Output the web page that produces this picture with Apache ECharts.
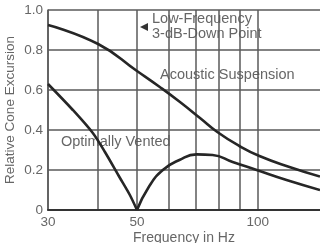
<!DOCTYPE html>
<html>
<head>
<meta charset="utf-8">
<script src="https://cdn.jsdelivr.net/npm/echarts@6/dist/echarts.min.js"></script>
<style>
  html, body { margin: 0; padding: 0; background: #fff; }
  #chart { width: 320px; height: 243px; }
</style>
</head>
<body>
<div id="chart"></div>
<script>
// frequencies in Hz
var suspensionFreq = [30, 40, 50, 57, 64, 71.8, 79.3, 90, 101, 120, 143];
var suspensionVal = [0.925, 0.83, 0.695, 0.615, 0.54, 0.46, 0.39, 0.32, 0.27, 0.215, 0.167];

// optimally vented, split at the null at 50 Hz
var ventedLowFreq = [30, 34.6, 38.8, 41.6, 45.2, 48, 50];
var ventedLowVal = [0.63, 0.5, 0.385, 0.29, 0.165, 0.075, 0];
var ventedHighFreq = [50, 53.5, 58, 63.8, 70.4, 77.2, 86.6, 99.4, 118, 143];
var ventedHighVal = [0, 0.115, 0.2, 0.25, 0.278, 0.275, 0.24, 0.2, 0.15, 0.1];

var gridFreqs = [30, 40, 50, 60, 70, 80, 90, 100];
var labelFreqs = [30, 50, 100];

function toPoints(freqs, vals) {
    var out = [];
    for (var i = 0; i < freqs.length; i++) {
        out.push([Math.log10(freqs[i]), vals[i]]);
    }
    return out;
}

var textColor = '#666';
var gridColor = '#5a5a5a';
var curveColor = '#262626';
var font = 'Liberation Sans, Arial, sans-serif';

var chart = echarts.init(document.getElementById('chart'), null, { renderer: 'canvas' });

chart.setOption({
    animation: false,
    grid: { left: 48, right: 0, top: 10, bottom: 33, outerBoundsMode: 'none', containLabel: false },
    xAxis: {
        type: 'value',
        min: Math.log10(30),
        max: Math.log10(143),
        name: 'Frequency in Hz',
        nameLocation: 'middle',
        nameMoveOverlap: false,
        nameGap: 21,
        nameTextStyle: { color: textColor, fontSize: 14, fontFamily: font },
        axisLine: { show: true, lineStyle: { color: '#333', width: 2 } },
        axisTick: { show: false, customValues: gridFreqs.map(Math.log10) },
        axisLabel: {
            customValues: labelFreqs.map(Math.log10),
            formatter: function (v) { return String(Math.round(Math.pow(10, v))); },
            color: textColor, fontSize: 13.5, fontFamily: font, margin: 5
        },
        splitLine: { show: true, lineStyle: { color: gridColor, width: 1.5 } }
    },
    yAxis: {
        type: 'value',
        min: 0,
        max: 1,
        interval: 0.2,
        name: 'Relative Cone Excursion',
        nameLocation: 'middle',
        nameMoveOverlap: false,
        nameGap: 31,
        nameTextStyle: { color: textColor, fontSize: 13.5, fontFamily: font },
        axisLine: { show: true, lineStyle: { color: gridColor, width: 1.5 } },
        axisTick: { show: false },
        axisLabel: {
            formatter: function (v) { return v === 0 ? '0' : v.toFixed(1); },
            color: textColor, fontSize: 13.5, fontFamily: font, margin: 5
        },
        splitLine: { show: true, lineStyle: { color: gridColor, width: 1.5 } }
    },
    series: [
        {
            type: 'line', name: 'Acoustic Suspension', smooth: true, symbol: 'none',
            lineStyle: { color: curveColor, width: 2.6 },
            data: toPoints(suspensionFreq, suspensionVal)
        },
        {
            type: 'line', name: 'Optimally Vented low', smooth: 0.3, symbol: 'none',
            lineStyle: { color: curveColor, width: 2.6 },
            data: toPoints(ventedLowFreq, ventedLowVal)
        },
        {
            type: 'line', name: 'Optimally Vented high', smooth: true, symbol: 'none',
            lineStyle: { color: curveColor, width: 2.6 },
            data: toPoints(ventedHighFreq, ventedHighVal)
        }
    ],
    graphic: [
        {
            type: 'polygon', shape: { points: [[140, 27], [148, 23], [148, 31]] },
            style: { fill: '#333' }
        },
        {
            type: 'text', left: 152, top: 11,
            style: { text: 'Low-Frequency\n3-dB-Down Point', fill: textColor, font: '14.5px ' + font, lineHeight: 15 }
        },
        {
            type: 'text', left: 160, top: 67,
            style: { text: 'Acoustic Suspension', fill: textColor, font: '14.5px ' + font }
        },
        {
            type: 'text', left: 61, top: 134,
            style: { text: 'Optimally Vented', fill: textColor, font: '14.5px ' + font }
        }
    ]
});
</script>
</body>
</html>
